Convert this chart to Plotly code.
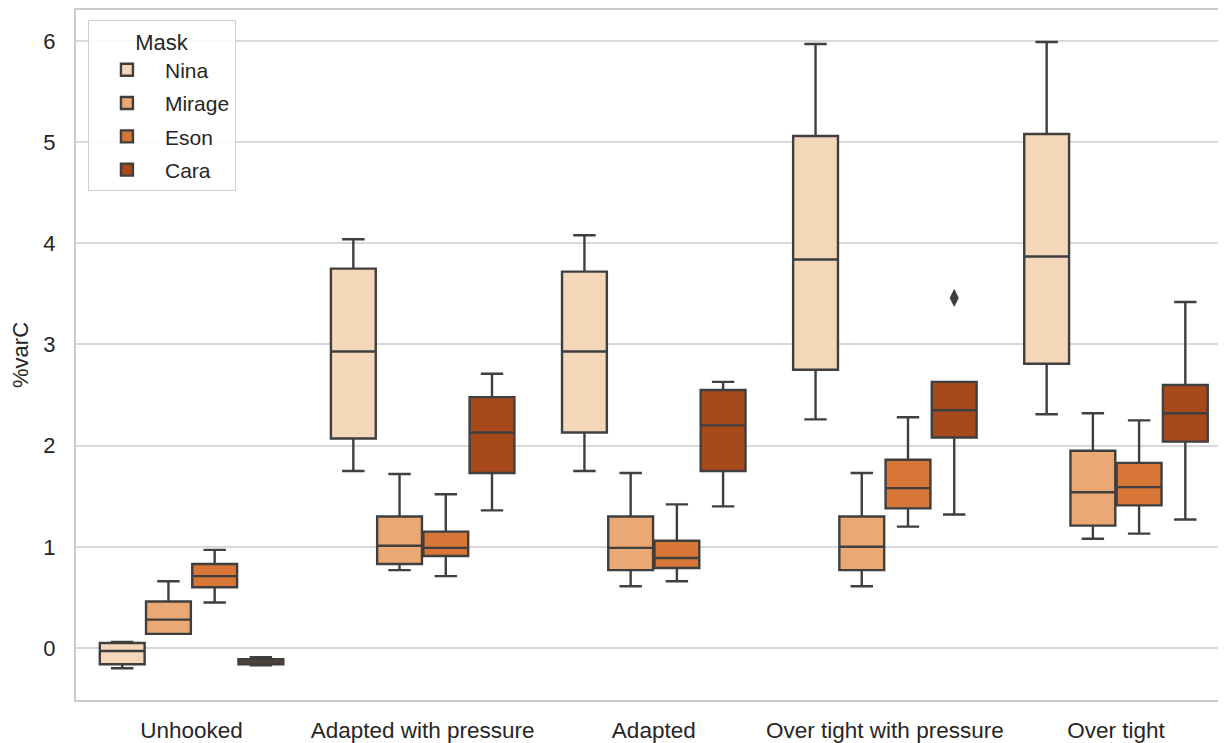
import plotly.graph_objects as go

categories = ["Unhooked", "Adapted with pressure", "Adapted", "Over tight with pressure", "Over tight"]
masks = ["Nina", "Mirage", "Eson", "Cara"]
colors = ["#f3d7b8", "#e9a874", "#d77636", "#a8491b"]

# per mask: values per category
lower = {
    "Nina":   [-0.20, 1.75, 1.75, 2.26, 2.31],
    "Mirage": [0.14, 0.77, 0.61, 0.61, 1.08],
    "Eson":   [0.45, 0.71, 0.66, 1.20, 1.13],
    "Cara":   [-0.17, 1.36, 1.40, 1.32, 1.27],
}
q1 = {
    "Nina":   [-0.16, 2.07, 2.13, 2.75, 2.81],
    "Mirage": [0.14, 0.83, 0.77, 0.77, 1.21],
    "Eson":   [0.60, 0.91, 0.79, 1.38, 1.41],
    "Cara":   [-0.16, 1.73, 1.75, 2.08, 2.04],
}
median = {
    "Nina":   [-0.03, 2.93, 2.93, 3.84, 3.87],
    "Mirage": [0.28, 1.01, 0.99, 1.00, 1.54],
    "Eson":   [0.71, 0.99, 0.89, 1.58, 1.59],
    "Cara":   [-0.135, 2.13, 2.20, 2.35, 2.32],
}
q3 = {
    "Nina":   [0.05, 3.75, 3.72, 5.06, 5.08],
    "Mirage": [0.46, 1.30, 1.30, 1.30, 1.95],
    "Eson":   [0.83, 1.15, 1.06, 1.86, 1.83],
    "Cara":   [-0.11, 2.48, 2.55, 2.63, 2.60],
}
upper = {
    "Nina":   [0.06, 4.04, 4.08, 5.97, 5.99],
    "Mirage": [0.66, 1.72, 1.73, 1.73, 2.32],
    "Eson":   [0.97, 1.52, 1.42, 2.28, 2.25],
    "Cara":   [-0.09, 2.71, 2.63, 2.63, 3.42],
}
# outliers: (mask, category index, value)
outlier_mask = ["Cara"]
outlier_cat = [3]
outlier_val = [3.46]

edge = "#3f3f3f"
font_color = "#262626"
FONT = "Liberation Sans, Arial, sans-serif"

fig = go.Figure()
pos = list(range(len(categories)))
for m, c in zip(masks, colors):
    fig.add_trace(go.Box(
        name=m, x=pos, legendgroup=m,
        q1=q1[m], median=median[m], q3=q3[m],
        lowerfence=lower[m], upperfence=upper[m],
        fillcolor=c, line=dict(color=edge, width=2.4),
        whiskerwidth=0.5, boxpoints=False, hoverinfo="skip",
    ))

group_width = 0.8
n = len(masks)
for m, ci, v in zip(outlier_mask, outlier_cat, outlier_val):
    k = masks.index(m)
    off = -group_width / 2 + group_width / n * (k + 0.5)
    fig.add_trace(go.Scatter(
        x=[ci + off], y=[v], mode="markers", showlegend=False,
        marker=dict(symbol="diamond-tall", size=13, color=edge,
                    line=dict(width=0)),
        hoverinfo="skip",
    ))

# page body has an 8px margin, so the figure is offset by 8px
fig.update_layout(
    width=1218, height=735,
    margin=dict(l=68, r=0, t=2, b=43),
    paper_bgcolor="white", plot_bgcolor="white",
    boxmode="group", boxgap=0.2, boxgroupgap=0.03,
    font=dict(family=FONT, size=22, color=font_color),
    legend=dict(
        title=dict(text="Mask", side="top center", font=dict(size=22, color=font_color)),
        x=0.0104, y=0.9855, xanchor="left", yanchor="top",
        bgcolor="rgba(255,255,255,0.85)", bordercolor="#d0d0d0", borderwidth=1,
        font=dict(size=21, color=font_color),
        itemwidth=66, tracegroupgap=3,
    ),
    xaxis=dict(
        range=[-0.5, 4.476], tickmode="array", tickvals=pos, ticktext=categories,
        tickfont=dict(size=22.5),
        showgrid=False, zeroline=False, showline=True, linecolor="#cccccc",
        linewidth=2, mirror=True, ticks="", ticklabelstandoff=9, automargin=False,
    ),
    yaxis=dict(
        range=[-0.514, 6.306], tickvals=[0, 1, 2, 3, 4, 5, 6],
        showgrid=True, gridcolor="#d9d9d9", gridwidth=1.5, zeroline=False,
        showline=True, linecolor="#cccccc", linewidth=2, ticks="",
        title=dict(text="%varC", font=dict(size=22, color=font_color), standoff=16),
        ticklabelstandoff=14, automargin=False,
    ),
)

fig.write_html("out.html")
